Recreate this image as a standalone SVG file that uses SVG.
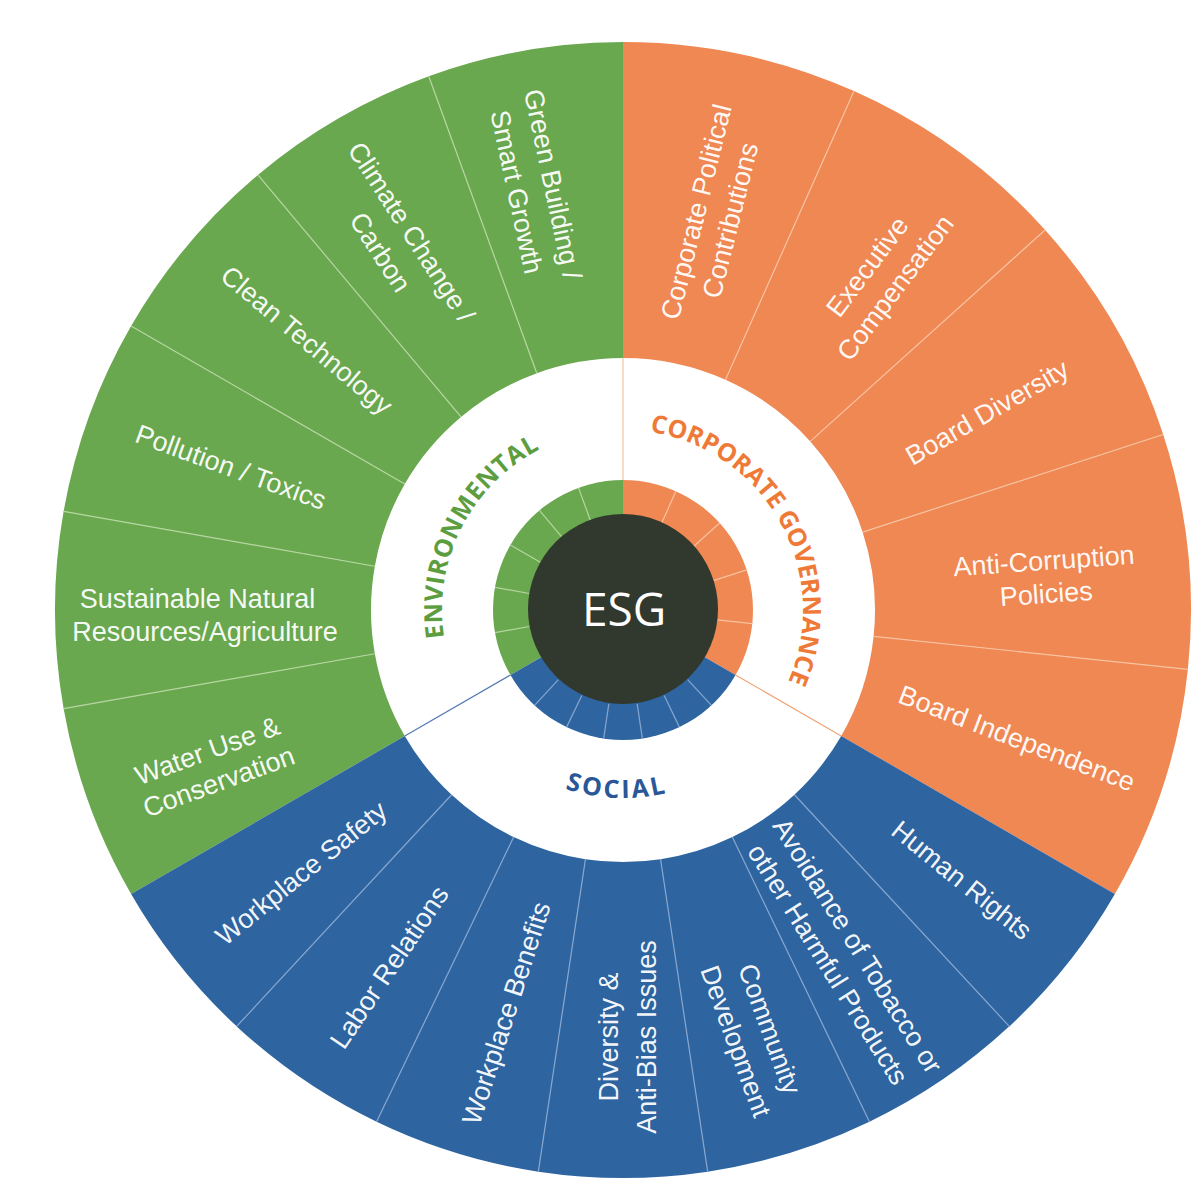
<svg xmlns="http://www.w3.org/2000/svg" xmlns:xlink="http://www.w3.org/1999/xlink" width="1204" height="1200" viewBox="0 0 1204 1200">
<style>
.g{fill:#6aa84f}.o{fill:#ef8853}.b{fill:#2e65a0}
.lbl{font-family:"Liberation Sans",Arial,sans-serif;font-size:27px;fill:#ffffff;fill-opacity:0.96;text-anchor:middle}
.cat{font-family:"Open Sans","DejaVu Sans",sans-serif;font-weight:700;font-size:25px}
.dg{stroke:#b4d6a0;stroke-width:1.2;fill:none}
.do{stroke:#f8c2a0;stroke-width:1.2;fill:none}
.db{stroke:#86a6cf;stroke-width:1.2;fill:none}
</style>
<defs>
<path id="w20" d="M252 0L568 0A568 568 0 0 1 533.75 194.27L236.8 86.19A252 252 0 0 0 252 0Z"/>
<path id="w24" d="M252 0L568 0A568 568 0 0 1 518.89 231.03L230.21 102.5A252 252 0 0 0 252 0Z"/>
<path id="w17" d="M252 0L568 0A568 568 0 0 1 542.77 167.42L240.8 74.28A252 252 0 0 0 252 0Z"/>
<line id="dOut" x1="252" y1="0" x2="568" y2="0"/>
<line id="dIn" x1="95" y1="0" x2="130" y2="0"/>
<line id="dMid" x1="130" y1="0" x2="252" y2="0"/>
<path id="arcEnv" d="M456.39 680.72A181 181 0 0 1 582.28 433.64"/>
<path id="arcGov" d="M626.14 430.03A180 180 0 0 1 777.29 702.71"/>
<path id="arcSoc" d="M457.01 698.26A188 188 0 0 0 782.43 709.62"/>
</defs>
<rect width="1204" height="1200" fill="#ffffff"/>

<!-- Environmental segments -->
<g id="seg-water">
<use href="#w20" class="g" transform="translate(623 610) rotate(150)"/>
<text class="lbl" transform="translate(213 766) rotate(-20)"><tspan x="0" y="-7">Water Use &amp;</tspan><tspan x="0" y="26">Conservation</tspan></text>
</g>
<g id="seg-sustainable">
<use href="#w20" class="g" transform="translate(623 610) rotate(170)"/>
<text class="lbl" transform="translate(201 615)"><tspan x="-3.5" y="-7">Sustainable Natural</tspan><tspan x="4" y="26">Resources/Agriculture</tspan></text>
</g>
<g id="seg-pollution">
<use href="#w20" class="g" transform="translate(623 610) rotate(190)"/>
<text class="lbl" transform="translate(231 467) rotate(20)"><tspan x="0" y="9.5">Pollution / Toxics</tspan></text>
</g>
<g id="seg-cleantech">
<use href="#w20" class="g" transform="translate(623 610) rotate(210)"/>
<text class="lbl" transform="translate(307 340) rotate(40)"><tspan x="0" y="9.5">Clean Technology</tspan></text>
</g>
<g id="seg-climate">
<use href="#w20" class="g" transform="translate(623 610) rotate(230)"/>
<text class="lbl" transform="translate(396 242) rotate(57)"><tspan x="0" y="-9">Climate Change /</tspan><tspan x="0" y="28">Carbon</tspan></text>
</g>
<g id="seg-greenbuilding">
<use href="#w20" class="g" transform="translate(623 610) rotate(250)"/>
<text class="lbl" transform="translate(535 188) rotate(78)"><tspan x="0" y="-9">Green Building /</tspan><tspan x="0" y="28">Smart Growth</tspan></text>
</g>

<!-- Corporate governance segments -->
<g id="seg-political">
<use href="#w24" class="o" transform="translate(623 610) rotate(-90)"/>
<text class="lbl" transform="translate(713 216) rotate(-76)"><tspan x="0" y="-8">Corporate Political</tspan><tspan x="0" y="27">Contributions</tspan></text>
</g>
<g id="seg-executive">
<use href="#w24" class="o" transform="translate(623 610) rotate(-66)"/>
<text class="lbl" transform="translate(881 277) rotate(-53)"><tspan x="0" y="-8">Executive</tspan><tspan x="0" y="27">Compensation</tspan></text>
</g>
<g id="seg-boarddiversity">
<use href="#w24" class="o" transform="translate(623 610) rotate(-42)"/>
<text class="lbl" transform="translate(987 412) rotate(-30)"><tspan x="0" y="9.5">Board Diversity</tspan></text>
</g>
<g id="seg-anticorruption">
<use href="#w24" class="o" transform="translate(623 610) rotate(-18)"/>
<text class="lbl" transform="translate(1045 577) rotate(-4)"><tspan x="0" y="-7">Anti-Corruption</tspan><tspan x="0" y="26">Policies</tspan></text>
</g>
<g id="seg-boardindependence">
<use href="#w24" class="o" transform="translate(623 610) rotate(6)"/>
<text class="lbl" transform="translate(1017 738) rotate(21)"><tspan x="0" y="9.5">Board Independence</tspan></text>
</g>

<!-- Social segments -->
<g id="seg-humanrights">
<use href="#w17" class="b" transform="translate(623 610) rotate(30)"/>
<text class="lbl" transform="translate(962 880) rotate(39)"><tspan x="0" y="9.5">Human Rights</tspan></text>
</g>
<g id="seg-avoidance">
<use href="#w17" class="b" transform="translate(623 610) rotate(47.142857)"/>
<text class="lbl" transform="translate(843 955) rotate(58)"><tspan x="0" y="-8">Avoidance of Tobacco or</tspan><tspan x="0" y="27">other Harmful Products</tspan></text>
</g>
<g id="seg-community">
<use href="#w17" class="b" transform="translate(623 610) rotate(64.285714)"/>
<text class="lbl" transform="translate(753 1035) rotate(70)"><tspan x="0" y="-8.5">Community</tspan><tspan x="0" y="27.5">Development</tspan></text>
</g>
<g id="seg-diversity">
<use href="#w17" class="b" transform="translate(623 610) rotate(81.428571)"/>
<text class="lbl" transform="translate(627 1037) rotate(-90)"><tspan x="0" y="-9.5">Diversity &amp;</tspan><tspan x="0" y="28.5">Anti-Bias Issues</tspan></text>
</g>
<g id="seg-benefits">
<use href="#w17" class="b" transform="translate(623 610) rotate(98.571429)"/>
<text class="lbl" transform="translate(506 1013) rotate(-72)"><tspan x="0" y="9.5">Workplace Benefits</tspan></text>
</g>
<g id="seg-labor">
<use href="#w17" class="b" transform="translate(623 610) rotate(115.714286)"/>
<text class="lbl" transform="translate(389 967) rotate(-56)"><tspan x="0" y="9.5">Labor Relations</tspan></text>
</g>
<g id="seg-safety">
<use href="#w17" class="b" transform="translate(623 610) rotate(132.857143)"/>
<text class="lbl" transform="translate(301 873) rotate(-39)"><tspan x="0" y="9.5">Workplace Safety</tspan></text>
</g>

<!-- Inner ring -->
<g id="inner-ring">
<path class="g" d="M623 610L510.42 675A130 130 0 0 1 623 480Z"/>
<path class="o" d="M623 610L623 480A130 130 0 0 1 735.58 675Z"/>
<path class="b" d="M623 610L735.58 675A130 130 0 0 1 510.42 675Z"/>
</g>

<!-- Connectors / dividers -->
<g id="dividers">
<g transform="translate(623 610)">
<use href="#dOut" class="dg" transform="rotate(170)"/>
<use href="#dOut" class="dg" transform="rotate(190)"/>
<use href="#dOut" class="dg" transform="rotate(210)"/>
<use href="#dOut" class="dg" transform="rotate(230)"/>
<use href="#dOut" class="dg" transform="rotate(250)"/>
<use href="#dOut" class="do" transform="rotate(-66)"/>
<use href="#dOut" class="do" transform="rotate(-42)"/>
<use href="#dOut" class="do" transform="rotate(-18)"/>
<use href="#dOut" class="do" transform="rotate(6)"/>
<use href="#dOut" class="db" transform="rotate(47.142857)"/>
<use href="#dOut" class="db" transform="rotate(64.285714)"/>
<use href="#dOut" class="db" transform="rotate(81.428571)"/>
<use href="#dOut" class="db" transform="rotate(98.571429)"/>
<use href="#dOut" class="db" transform="rotate(115.714286)"/>
<use href="#dOut" class="db" transform="rotate(132.857143)"/>
<use href="#dIn" class="dg" transform="rotate(170)"/>
<use href="#dIn" class="dg" transform="rotate(190)"/>
<use href="#dIn" class="dg" transform="rotate(210)"/>
<use href="#dIn" class="dg" transform="rotate(230)"/>
<use href="#dIn" class="dg" transform="rotate(250)"/>
<use href="#dIn" class="do" transform="rotate(-66)"/>
<use href="#dIn" class="do" transform="rotate(-42)"/>
<use href="#dIn" class="do" transform="rotate(-18)"/>
<use href="#dIn" class="do" transform="rotate(6)"/>
<use href="#dIn" class="db" transform="rotate(47.142857)"/>
<use href="#dIn" class="db" transform="rotate(64.285714)"/>
<use href="#dIn" class="db" transform="rotate(81.428571)"/>
<use href="#dIn" class="db" transform="rotate(98.571429)"/>
<use href="#dIn" class="db" transform="rotate(115.714286)"/>
<use href="#dIn" class="db" transform="rotate(132.857143)"/>
<use href="#dMid" transform="rotate(-90)" stroke="#f6c3a3" stroke-width="1.2"/>
<use href="#dMid" transform="rotate(30)" stroke="#f0a475" stroke-width="1.2"/>
<use href="#dMid" transform="rotate(150)" stroke="#5478b2" stroke-width="1.2"/>
</g>
</g>

<!-- Category labels -->
<g id="cat-environmental">
<text class="cat" fill="#5c9e3f" letter-spacing="0.5"><textPath href="#arcEnv" startOffset="50%" text-anchor="middle">ENVIRONMENTAL</textPath></text>
</g>
<g id="cat-governance">
<text class="cat" fill="#ef7a38" letter-spacing="0"><textPath href="#arcGov" startOffset="50%" text-anchor="middle">CORPORATE GOVERNANCE</textPath></text>
</g>
<g id="cat-social">
<text class="cat" fill="#2a5798" letter-spacing="2.5"><textPath href="#arcSoc" startOffset="50%" text-anchor="middle">SOCIAL</textPath></text>
</g>

<!-- Core -->
<g id="esg-core">
<circle cx="623" cy="609" r="95" fill="#31382d"/>
<text x="624" y="626" font-family="'Open Sans','DejaVu Sans',sans-serif" font-size="46" fill="#ffffff" text-anchor="middle">ESG</text>
</g>
</svg>
